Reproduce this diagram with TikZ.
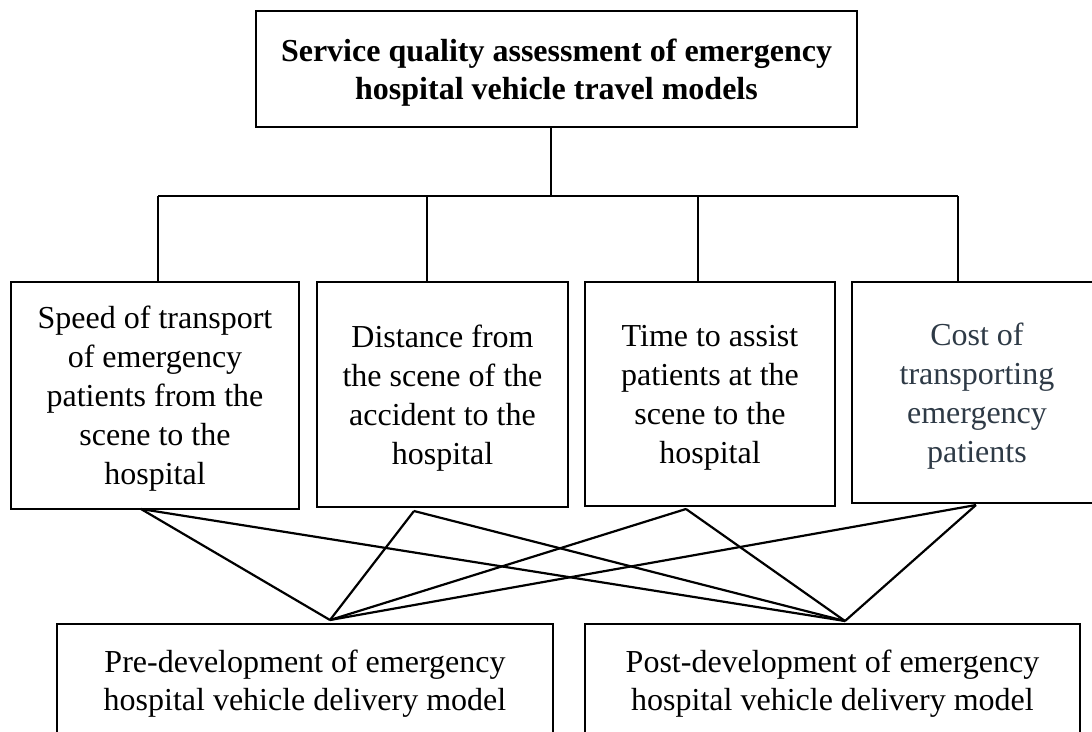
\documentclass[tikz,border=0pt]{standalone}
\usepackage{fontspec}
\setmainfont{Liberation Serif}
\definecolor{slatetext}{RGB}{46,58,70}
\tikzset{
  block/.style={draw, line width=2.6pt, align=center, inner sep=0pt,
    font=\fontsize{32}{38}\selectfont},
  goal/.style={block, font=\fontsize{32}{38}\selectfont\bfseries, text depth=-7pt},
  criterion/.style={block, font=\fontsize{32}{39}\selectfont, text depth=-5pt},
  link/.style={line width=2.2pt}
}
\begin{document}
\begin{tikzpicture}[x=1pt, y=-1pt]
      \useasboundingbox (0,0) rectangle (1092,731);
      \clip (0,0) rectangle (1092,731);
      % goal
      \node[goal, minimum width=601, minimum height=116] (top) at (556.5,69)
        {Service quality assessment of emergency\\hospital vehicle travel models};
      % criteria
      \node[criterion, minimum width=288, minimum height=227] (speed) at (155,395.5)
        {Speed of transport\\of emergency\\patients from the\\scene to the\\hospital};
      \node[criterion, minimum width=251, minimum height=225] (distance) at (442.5,394.5)
        {Distance from\\the scene of the\\accident to the\\hospital};
      \node[criterion, minimum width=250, minimum height=224] (assist) at (710,394)
        {Time to assist\\patients at the\\scene to the\\hospital};
      \node[criterion, minimum width=250, minimum height=221, text=slatetext] (cost) at (977,392.5)
        {Cost of\\transporting\\emergency\\patients};
      % alternatives
      \node[block, minimum width=496, minimum height=120] (pre) at (305,684)
        {Pre-development of emergency\\hospital vehicle delivery model};
      \node[block, minimum width=495, minimum height=120] (post) at (832.5,684)
        {Post-development of emergency\\hospital vehicle delivery model};
      % tree joints
      \coordinate (hub) at (551,196);
      \coordinate (d1) at (158,196);
      \coordinate (d2) at (427,196);
      \coordinate (d3) at (698,196);
      \coordinate (d4) at (958,196);
      % feet under the criteria and the two meeting points
      \coordinate (f1) at (141,509);
      \coordinate (f2) at (414,511);
      \coordinate (f3) at (686,509);
      \coordinate (f4) at (976,505);
      \coordinate (pL) at (330,620);
      \coordinate (pR) at (845,621);
      \begin{scope}[link]
        \draw (top.south -| hub) -- (hub);
        \draw (d1) -- (d4);
        \draw (d1) -- (d1 |- speed.north);
        \draw (d2) -- (d2 |- distance.north);
        \draw (d3) -- (d3 |- assist.north);
        \draw (d4) -- (d4 |- cost.north);
        \draw (f1) -- (pL);
        \draw (f1) -- (pR);
        \draw (f2) -- (pL);
        \draw (f2) -- (pR);
        \draw (f3) -- (pL);
        \draw (f3) -- (pR);
        \draw (f4) -- (pL);
        \draw (f4) -- (pR);
      \end{scope}
    \end{tikzpicture}
\end{document}
